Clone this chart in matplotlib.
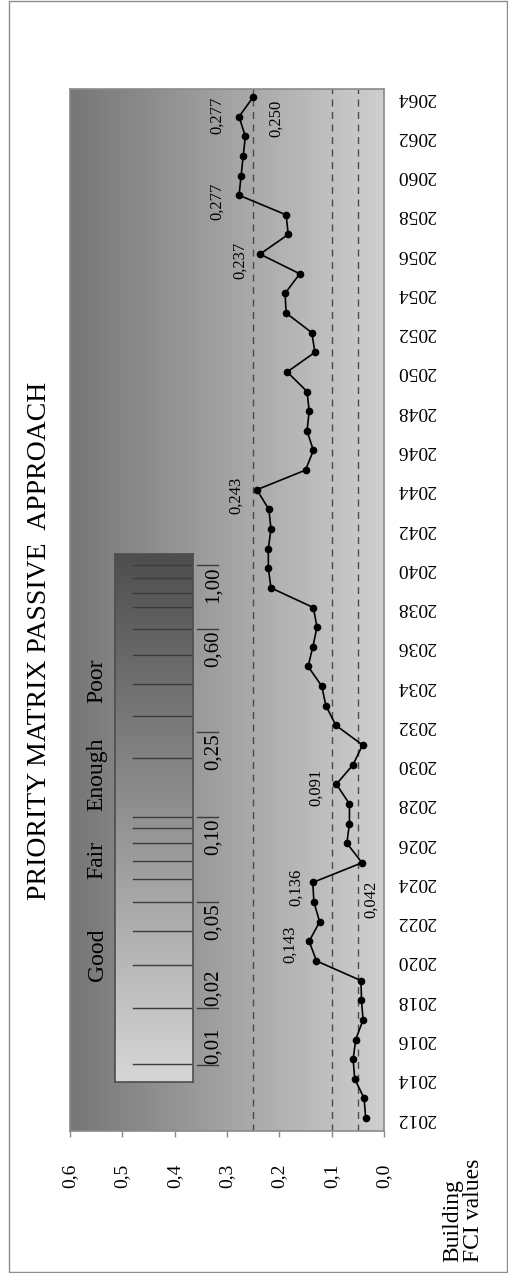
import numpy as np
import matplotlib
matplotlib.use("Agg")
import matplotlib.pyplot as plt
from matplotlib.colors import LinearSegmentedColormap
from matplotlib.patches import Rectangle

plt.rcParams["font.family"] = ["Liberation Serif", "DejaVu Serif"]

# --- data -----------------------------------------------------------------
YEARS = list(range(2012, 2065))
FCI = [
    0.035, 0.038, 0.056, 0.059, 0.054, 0.040, 0.043, 0.044, 0.129, 0.143,
    0.123, 0.134, 0.136, 0.042, 0.071, 0.066, 0.066, 0.091, 0.059, 0.041,
    0.092, 0.111, 0.119, 0.145, 0.136, 0.128, 0.135, 0.216, 0.221, 0.221,
    0.216, 0.220, 0.243, 0.150, 0.135, 0.147, 0.143, 0.147, 0.185, 0.132,
    0.138, 0.187, 0.189, 0.161, 0.237, 0.183, 0.187, 0.277, 0.273, 0.269,
    0.265, 0.277, 0.250,
]
LABELLED_YEARS = [2021, 2024, 2025, 2029, 2044, 2056, 2059, 2063, 2064]
THRESHOLDS = [0.25, 0.10, 0.05]
VALUE_TICKS = [0.0, 0.1, 0.2, 0.3, 0.4, 0.5, 0.6]
YEAR_TICKS = YEARS[::2]

RATING_NAMES = ["Good", "Fair", "Enough", "Poor"]
RATING_BOUNDS = ["0,01", "0,02", "0,05", "0,10", "0,25", "0,60", "1,00"]

# --- layout ---------------------------------------------------------------
W, H = 508, 1273
# label offsets in pixels (dx, dy) for the annotated points
LABEL_OFFSETS = {
    2021: (-19, -3), 2024: (-17, -5), 2025: (9, -37), 2029: (-20, -3),
    2044: (-21, -6), 2056: (-20, -6), 2059: (-22, -6), 2063: (-22, 1),
    2064: (23, -21),
}
# legend scale, as fraction of the legend box height
BOUND_POS = [0.032, 0.140, 0.341, 0.502, 0.663, 0.858, 0.979]
GRID_POS = [0.034, 0.140, 0.222, 0.286, 0.341, 0.384, 0.419, 0.453, 0.481,
            0.502, 0.614, 0.693, 0.754, 0.809, 0.858, 0.900, 0.926, 0.955, 0.979]


def px_box(x0, y0, x1, y1):
    """Figure-fraction rect from pixel corners (top-left origin)."""
    return [x0 / W, 1 - y1 / H, (x1 - x0) / W, (y1 - y0) / H]


fig = plt.figure(figsize=(W / 100, H / 100), dpi=100)
fig.patch.set_facecolor("white")

plot_rect = px_box(70, 89, 384, 1131)

# gradient behind the plot area
bg = fig.add_axes(plot_rect, zorder=0)
plot_cmap = LinearSegmentedColormap.from_list("plot_bg", ["#767676", "#cfcfcf"])
bg.imshow(np.linspace(0, 1, 256)[None, :], cmap=plot_cmap, aspect="auto",
          extent=[0, 1, 0, 1])
bg.axis("off")

ax = fig.add_axes(plot_rect, zorder=1)
ax.set_facecolor("none")
ax.set_xlim(0.6, 0.0)
ax.set_ylim(2011.34, 2064.41)

for t in THRESHOLDS:
    ax.axvline(t, color="#4a4a4a", lw=1.0, ls=(0, (5, 4)), zorder=1)

ax.plot(FCI, YEARS, color="black", lw=1.2, marker="o", ms=4.5, zorder=3)

for yr in LABELLED_YEARS:
    v = FCI[YEARS.index(yr)]
    ax.annotate(f"{v:.3f}".replace(".", ","), (v, yr),
                xytext=LABEL_OFFSETS[yr], textcoords="offset pixels",
                rotation=90, ha="center", va="center", fontsize=12, zorder=4)

for side in ["left", "right", "top", "bottom"]:
    ax.spines[side].set_color("#8a8a8a")
    ax.spines[side].set_linewidth(1.2)

ax.set_xticks(VALUE_TICKS)
ax.set_xticklabels([f"{v:.1f}".replace(".", ",") for v in VALUE_TICKS],
                   rotation=90, fontsize=14)
ax.tick_params(axis="x", direction="out", length=4.5, width=1,
               color="#8a8a8a", pad=19)

ax.yaxis.tick_right()
ax.set_yticks(YEAR_TICKS)
ax.set_yticklabels([str(y) for y in YEAR_TICKS], fontsize=14)
plt.setp(ax.get_yticklabels(), rotation=180, va="center")
ax.tick_params(axis="y", length=0, pad=9.5)

# rating legend box
lg = fig.add_axes(px_box(115, 554, 193, 1082), zorder=2)
leg_cmap = LinearSegmentedColormap.from_list("leg_bg", ["#d6d6d6", "#4e4e4e"])
lg.imshow(np.linspace(0, 1, 256)[:, None], cmap=leg_cmap, aspect="auto",
          extent=[0, 1, 0, 1], origin="lower")
lg.set_xlim(0, 1)
lg.set_ylim(0, 1)
lg.set_xticks([])
lg.set_yticks([])
for side in lg.spines.values():
    side.set_color("#4d4d4d")
    side.set_linewidth(1.2)

for p in GRID_POS:
    lg.plot([0.23, 1.0], [p, p], color="#3c3c3c", lw=1.0)

for i, (lab, p) in enumerate(zip(RATING_BOUNDS, BOUND_POS)):
    lg.plot([1.05, 1.32], [p, p], color="#3c3c3c", lw=1.0, clip_on=False)
    if i < 2:
        lg.text(1.26, p + 0.003, lab, rotation=90, ha="center", va="bottom",
                fontsize=15)
    else:
        lg.text(1.26, p - 0.003, lab, rotation=90, ha="center", va="top",
                fontsize=15)

for i, name in enumerate(RATING_NAMES):
    mid = (BOUND_POS[i + 1] + BOUND_POS[i + 2]) / 2
    lg.text(-0.23, mid, name, rotation=90, ha="center", va="center",
            fontsize=17)

fig.text(40 / W, 1 - 641 / H, "PRIORITY MATRIX PASSIVE  APPROACH",
         rotation=90, ha="center", va="center", fontsize=20)
fig.text(463 / W, 1 - 1262 / H, "Building\nFCI values", rotation=90,
         ha="center", va="bottom", multialignment="left", linespacing=0.95,
         fontsize=17)

fig.patches.append(Rectangle((9 / W, 1 / H), 498 / W, 1271 / H,
                             transform=fig.transFigure, fill=False,
                             edgecolor="#8c8c8c", lw=1.0))

fig.savefig("out.png", dpi=100)
